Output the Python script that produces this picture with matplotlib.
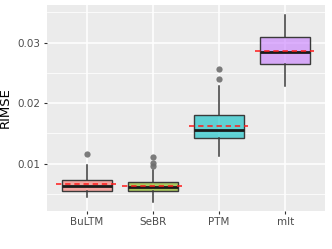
import matplotlib
matplotlib.use("Agg")
import matplotlib.pyplot as plt
from matplotlib.ticker import MultipleLocator

categories = ["BuLTM", "SeBR", "PTM", "mlt"]
q1 = [0.00554, 0.00544, 0.01425, 0.02648]
med = [0.00631, 0.00620, 0.01552, 0.02846]
q3 = [0.00730, 0.00702, 0.01805, 0.03100]
whislo = [0.00445, 0.00362, 0.01132, 0.02279]
whishi = [0.00973, 0.00896, 0.02284, 0.03453]
means = [0.00664, 0.00631, 0.01628, 0.02863]
outliers = [[0.01155], [0.01105, 0.01007, 0.00962], [0.0257, 0.02405], []]
fills = ["#F8766D", "#7CAE00", "#00BFC4", "#C77CFF"]

fig = plt.figure(figsize=(3.32, 2.49), dpi=100)
ax = fig.add_axes([47/332, 1-211/249, 278/332, 206/249])
ax.set_facecolor("#EBEBEB")

stats = []
for i, c in enumerate(categories):
    stats.append(dict(label=c, q1=q1[i], med=med[i], q3=q3[i],
                      whislo=whislo[i], whishi=whishi[i], fliers=outliers[i]))
pos = list(range(1, len(categories)+1))
bp = ax.bxp(stats, positions=pos, widths=0.75, patch_artist=True, showcaps=False,
            boxprops=dict(edgecolor="#3a3a3a", linewidth=1.0),
            medianprops=dict(color="#1a1a1a", linewidth=2.0),
            whiskerprops=dict(color="#3a3a3a", linewidth=1.1),
            flierprops=dict(marker="o", markerfacecolor="#6e6e6e", markeredgecolor="none",
                            markersize=4.5, alpha=0.9))
for patch, col in zip(bp["boxes"], fills):
    patch.set_facecolor(col)
    patch.set_alpha(None)
    fc = matplotlib.colors.to_rgba(col, 0.6)
    patch.set_facecolor(fc)
for i, m in enumerate(means):
    ax.plot([pos[i]-0.46, pos[i]+0.44], [m, m], color="#FF1A1A", lw=1.1,
            linestyle=(0, (3.5, 2.5)), zorder=5)

ax.set_xlim(0.4, 4.6)
ax.set_ylim(0.00218, 0.03623)
ax.yaxis.set_major_locator(MultipleLocator(0.01))
ax.yaxis.set_minor_locator(MultipleLocator(0.005))
ax.set_yticks([0.01, 0.02, 0.03])
ax.set_yticklabels(["0.01", "0.02", "0.03"])
ax.set_xticks(pos)
ax.set_xticklabels(categories)
ax.grid(True, which="major", color="white", linewidth=1.1, zorder=0)
ax.grid(True, which="minor", axis="y", color="white", linewidth=0.55, zorder=0)
ax.set_axisbelow(True)
for s in ax.spines.values():
    s.set_visible(False)
ax.tick_params(axis="both", which="major", colors="#333333", labelcolor="#4D4D4D",
               labelsize=7.5, length=2.5, width=0.8, pad=2)
ax.tick_params(axis="y", which="minor", length=0)
ax.set_ylabel("RIMSE", fontsize=9.5, color="black", labelpad=4)

fig.savefig("out.png", dpi=100)
